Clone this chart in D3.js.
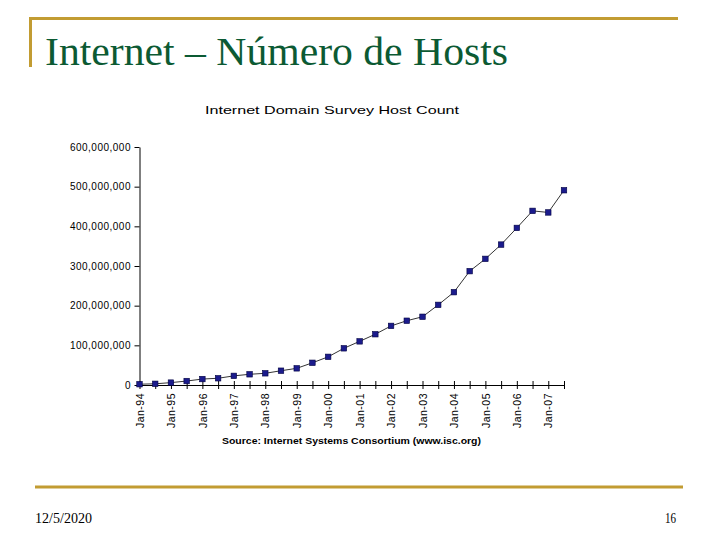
<!DOCTYPE html>
<html>
<head>
<meta charset="utf-8">
<script src="https://cdn.jsdelivr.net/npm/d3@7"></script>
<style>
  body { margin: 0; background: #fff; }
</style>
</head>
<body>
<div class="chart-div"></div>
<script>

var width = 720;
var height = 540;

// ---- data (hosts)
var periods = ["Jan-94", "Jul-94", "Jan-95", "Jul-95", "Jan-96", "Jul-96", "Jan-97", "Jul-97",
    "Jan-98", "Jul-98", "Jan-99", "Jul-99", "Jan-00", "Jul-00", "Jan-01", "Jul-01",
    "Jan-02", "Jul-02", "Jan-03", "Jul-03", "Jan-04", "Jul-04", "Jan-05", "Jul-05",
    "Jan-06", "Jul-06", "Jan-07", "Jul-07"]
var hosts = [2000000, 3000000, 6000000, 10000000, 15000000, 17000000, 23000000, 27000000,
    29500000, 36000000, 42000000, 56000000, 71000000, 92500000, 110000000, 128000000,
    149000000, 162000000, 172000000, 202000000, 234000000, 287000000, 318000000, 354000000,
    396000000, 439000000, 435000000, 491000000]
var yTicks = [0, 100000000, 200000000, 300000000, 400000000, 500000000, 600000000]
var xLabels = ["Jan-94", "Jan-95", "Jan-96", "Jan-97", "Jan-98", "Jan-99", "Jan-00",
    "Jan-01", "Jan-02", "Jan-03", "Jan-04", "Jan-05", "Jan-06", "Jan-07"]

var slideTitle = "Internet – Número de Hosts"
var chartTitle = "Internet Domain Survey Host Count"
var sourceText = "Source: Internet Systems Consortium (www.isc.org)"

var gold = "#c29c32"
var green = "#0c5a33"
var sans = "Liberation Sans, Arial, sans-serif"
var serif = "Liberation Serif, Times New Roman, serif"

var svg = d3.select("div.chart-div")
    .append("svg")
    .attr("width", width)
    .attr("height", height)

svg.append("rect")
    .attr("width", width)
    .attr("height", height)
    .attr("fill", "#fff")

//----------------------------- slide frame

svg.append("rect")
    .attr("x", 29).attr("y", 17)
    .attr("width", 649).attr("height", 3)
    .attr("fill", gold)

svg.append("rect")
    .attr("x", 29).attr("y", 17)
    .attr("width", 3).attr("height", 50)
    .attr("fill", gold)

svg.append("rect")
    .attr("x", 35).attr("y", 485.5)
    .attr("width", 648).attr("height", 3)
    .attr("fill", gold)

svg.append("text")
    .attr("x", 45)
    .attr("y", 65)
    .text(slideTitle)
    .attr("font-family", serif)
    .attr("font-size", 40)
    .attr("textLength", 463)
    .attr("lengthAdjust", "spacingAndGlyphs")
    .style("fill", green)

svg.append("text")
    .attr("x", 35)
    .attr("y", 523)
    .text("12/5/2020")
    .attr("font-family", serif)
    .attr("font-size", 15)
    .attr("textLength", 57)
    .attr("lengthAdjust", "spacingAndGlyphs")
    .style("fill", "#000")

svg.append("text")
    .attr("x", 676)
    .attr("y", 523)
    .text("16")
    .attr("text-anchor", "end")
    .attr("font-family", serif)
    .attr("font-size", 15)
    .attr("textLength", 11)
    .attr("lengthAdjust", "spacingAndGlyphs")
    .style("fill", "#000")

//----------------------------- chart

var x = d3.scalePoint()
    .domain(periods)
    .range([139.5, 564])

var y = d3.scaleLinear()
    .domain([0, 600000000])
    .range([385, 147])

svg.append("text")
    .attr("x", 332)
    .attr("y", 113.5)
    .text(chartTitle)
    .attr("text-anchor", "middle")
    .attr("font-family", sans)
    .attr("font-size", 11.5)
    .attr("textLength", 254)
    .attr("lengthAdjust", "spacingAndGlyphs")
    .style("fill", "#000")

svg.append("text")
    .attr("x", 351.5)
    .attr("y", 444)
    .text(sourceText)
    .attr("text-anchor", "middle")
    .attr("font-family", sans)
    .attr("font-weight", "bold")
    .attr("font-size", 9.5)
    .attr("textLength", 259)
    .attr("lengthAdjust", "spacingAndGlyphs")
    .style("fill", "#000")

var yAxis = svg.append("g")
    .attr("transform", "translate(139.5,0)")
    .call(d3.axisLeft(y)
        .tickValues(yTicks)
        .tickFormat(d3.format(","))
        .tickSizeInner(5)
        .tickSizeOuter(0)
        .tickPadding(3.5))

yAxis.selectAll("text")
    .attr("font-family", sans)
    .attr("font-size", 10)
    .attr("letter-spacing", "0.5px")
    .style("fill", "#000")

var xAxis = svg.append("g")
    .attr("transform", "translate(0,385)")
    .call(d3.axisBottom(x)
        .tickFormat(function (d) { return xLabels.indexOf(d) >= 0 ? d : ""; })
        .tickSizeOuter(0))

xAxis.selectAll(".tick line")
    .attr("y1", -4)
    .attr("y2", 4)

xAxis.selectAll("text")
    .attr("transform", "rotate(-90)")
    .attr("x", -8)
    .attr("y", 0)
    .attr("dy", "0.35em")
    .attr("text-anchor", "end")
    .attr("font-family", sans)
    .attr("font-size", 10.5)
    .attr("letter-spacing", "0.5px")
    .style("fill", "#000")

svg.selectAll(".domain, .tick line")
    .attr("stroke", "#000")
    .attr("stroke-width", 1)

var line = d3.line()
    .x(function (d, i) { return x(periods[i]); })
    .y(function (d) { return y(d); })

svg.append("path")
    .datum(hosts)
    .attr("d", line)
    .attr("fill", "none")
    .attr("stroke", "#000")
    .attr("stroke-width", 0.8)

svg.selectAll("rect.pt")
    .data(hosts)
    .enter()
    .append("rect")
    .attr("class", "pt")
    .attr("x", function (d, i) { return x(periods[i]) - 2.75; })
    .attr("y", function (d) { return y(d) - 2.75; })
    .attr("width", 5.5)
    .attr("height", 5.5)
    .attr("fill", "#1b1b8c")
    .attr("stroke", "#000040")
    .attr("stroke-width", 0.6)

</script>
</body>
</html>
